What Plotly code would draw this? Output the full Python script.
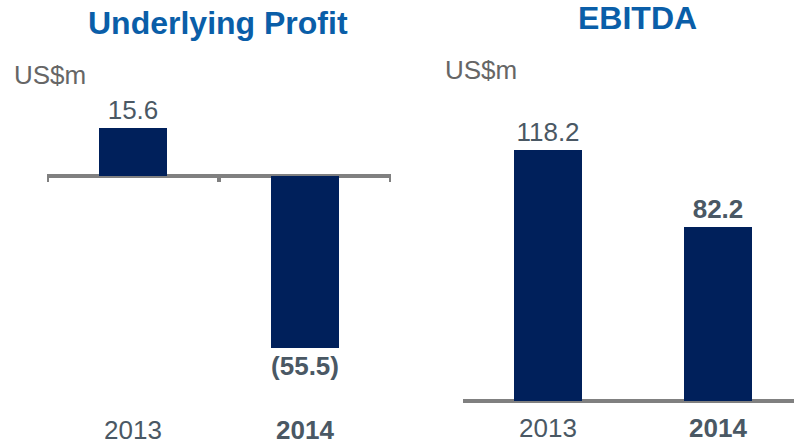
import plotly.graph_objects as go

years = ["2013", "2014"]
profit_values = [15.6, -55.5]
profit_labels = ["15.6", "<b>(55.5)</b>"]
ebitda_values = [118.2, 82.2]
ebitda_labels = ["118.2", "<b>82.2</b>"]
year_labels = ["2013", "<b>2014</b>"]
titles = ["<b>Underlying Profit</b>", "<b>EBITDA</b>"]
unit = "US$m"

W, H = 794, 446
BAR = "#00205b"
AXIS = "#808080"
LABEL = "#4a5864"
TITLE = "#0a5ea8"
UNIT = "#666666"
FONT = "Liberation Sans, Arial, sans-serif"

fig = go.Figure()

fig.add_trace(go.Bar(
    x=years, y=profit_values, text=profit_labels, textposition="outside",
    marker=dict(color=BAR, line=dict(width=0)), width=0.4,
    textfont=dict(family=FONT, size=26, color=LABEL), cliponaxis=False,
    xaxis="x", yaxis="y", showlegend=False, hoverinfo="skip"))

fig.add_trace(go.Bar(
    x=years, y=ebitda_values, text=ebitda_labels, textposition="outside",
    marker=dict(color=BAR, line=dict(width=0)), width=0.4,
    textfont=dict(family=FONT, size=26, color=LABEL), cliponaxis=False,
    xaxis="x2", yaxis="y2", showlegend=False, hoverinfo="skip"))

# left: zero at 176px, 3.1 px/unit
s1, z1 = 3.1, 176
# right: zero at 401px, 2.12 px/unit
s2, z2 = 2.12, 401

fig.update_layout(
    width=W, height=H, margin=dict(l=0, r=0, t=0, b=0),
    paper_bgcolor="white", plot_bgcolor="white",
    font=dict(family=FONT),
    bargap=0,
    xaxis=dict(domain=[47 / W, 391 / W], range=[-0.5, 1.5], type="category",
               showticklabels=False, showgrid=False, zeroline=False, showline=False),
    yaxis=dict(domain=[0, 1], range=[-(H - z1) / s1, z1 / s1], anchor="x",
               showticklabels=False, showgrid=False, zeroline=True,
               zerolinecolor=AXIS, zerolinewidth=4),
    xaxis2=dict(domain=[463 / W, 1.0], range=[-0.5, -0.5 + 331 / 170], type="category",
                showticklabels=False, showgrid=False, zeroline=False, showline=False,
                anchor="y2"),
    yaxis2=dict(domain=[0, 1], range=[-(H - z2) / s2, z2 / s2], anchor="x2",
                showticklabels=False, showgrid=False, zeroline=True,
                zerolinecolor=AXIS, zerolinewidth=4),
)

# tick marks on left axis
for xv in [-0.5, 0.5, 1.5]:
    fig.add_shape(type="line", xref="x", yref="y", x0=xv, x1=xv,
                  y0=0, y1=-6 / s1, line=dict(color=AXIS, width=4))

# titles
fig.add_annotation(text=titles[0], xref="paper", yref="paper", x=218 / W, y=1 - 23 / H,
                   showarrow=False, font=dict(size=32, color=TITLE, family=FONT),
                   xanchor="center", yanchor="middle")
fig.add_annotation(text=titles[1], xref="paper", yref="paper", x=637 / W, y=1 - 18 / H,
                   showarrow=False, font=dict(size=32, color=TITLE, family=FONT),
                   xanchor="center", yanchor="middle")

# units
fig.add_annotation(text=unit, xref="paper", yref="paper", x=50 / W, y=1 - 75 / H,
                   showarrow=False, font=dict(size=26, color=UNIT, family=FONT),
                   xanchor="center", yanchor="middle")
fig.add_annotation(text=unit, xref="paper", yref="paper", x=481 / W, y=1 - 70 / H,
                   showarrow=False, font=dict(size=26, color=UNIT, family=FONT),
                   xanchor="center", yanchor="middle")

# category labels (x given as category index)
for i, lab in enumerate(year_labels):
    fig.add_annotation(text=lab, xref="x", yref="paper", x=i, y=0,
                       showarrow=False, font=dict(size=26, color=LABEL, family=FONT),
                       xanchor="center", yanchor="bottom", borderpad=0)
    fig.add_annotation(text=lab, xref="x2", yref="paper", x=i, y=2 / H,
                       showarrow=False, font=dict(size=26, color=LABEL, family=FONT),
                       xanchor="center", yanchor="bottom", borderpad=0)

fig.write_html("out.html", config={"displayModeBar": False},
               post_script="document.body.style.margin='0';document.body.style.overflow='hidden';")
